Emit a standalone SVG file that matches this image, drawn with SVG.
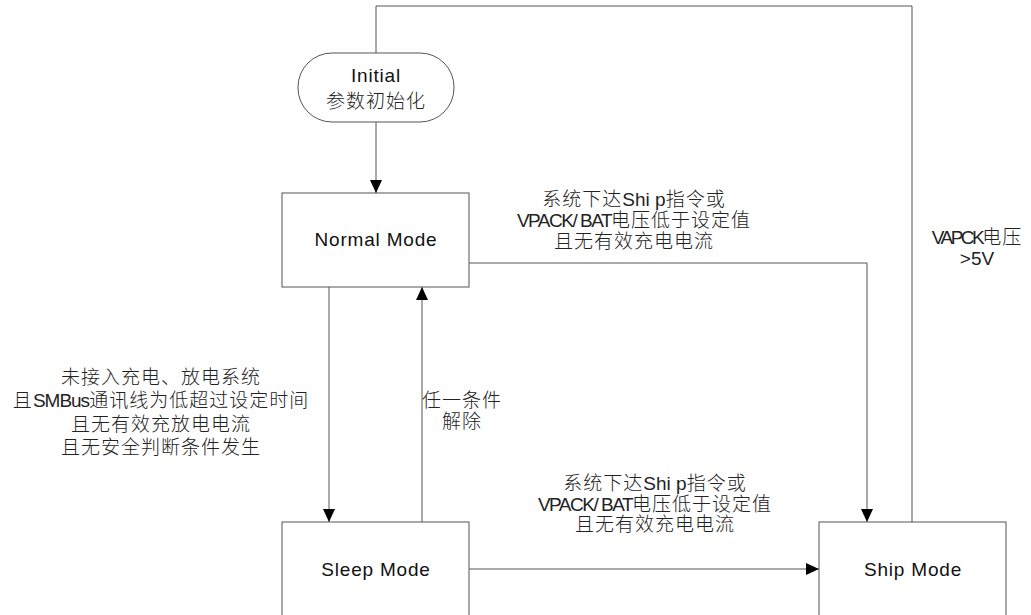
<svg xmlns="http://www.w3.org/2000/svg" width="1031" height="615" viewBox="0 0 1031 615">
  <style>
    .node { fill: #ffffff; stroke: #555555; stroke-width: 1; }
    .conn { fill: none; stroke: #555555; stroke-width: 1; }
    .t { font-family: "Liberation Sans", "Noto Sans CJK SC", sans-serif; font-size: 19px; fill: #111111; text-anchor: middle; letter-spacing: 0.8px; }
    .lbl { font-family: "Liberation Sans", "Noto Sans CJK SC", sans-serif; font-size: 19px; font-weight: 300; fill: #222222; text-anchor: middle; letter-spacing: 1px; }
    .lat0 { letter-spacing: 0px; }
    .latc { letter-spacing: -1.5px; }
    .latc1 { letter-spacing: -1px; }
    .latc2 { letter-spacing: -2.5px; }
  </style>
  <defs>
    <marker id="arrow" viewBox="0 0 13 12" refX="13" refY="6" markerWidth="13" markerHeight="12" markerUnits="userSpaceOnUse" orient="auto">
      <path d="M0,0 L13,6 L0,12 Z" fill="#000000"/>
    </marker>
  </defs>
  <rect width="1031" height="615" fill="#ffffff"/>

  <g id="connectors">
    <path class="conn" d="M376,122 L376,193" marker-end="url(#arrow)"/>
    <path class="conn" d="M329,287 L329,522" marker-end="url(#arrow)"/>
    <path class="conn" d="M422,522 L422,287" marker-end="url(#arrow)"/>
    <path class="conn" d="M469,263 L867,263 L867,522" marker-end="url(#arrow)"/>
    <path class="conn" d="M469,569 L819,569" marker-end="url(#arrow)"/>
    <path class="conn" d="M912,522 L912,6 L376,6 L376,53"/>
  </g>

  <g id="initial">
    <rect class="node" x="298" y="53" width="156" height="69" rx="34" ry="34"/>
    <text class="t" x="376" y="82">Initial</text>
    <text class="lbl" x="376" y="108">参数初始化</text>
  </g>

  <g id="normal">
    <rect class="node" x="282" y="193" width="187" height="94"/>
    <text class="t" x="376" y="246">Normal Mode</text>
  </g>

  <g id="sleep">
    <rect class="node" x="282" y="522" width="187" height="100"/>
    <text class="t" x="376" y="576">Sleep Mode</text>
  </g>

  <g id="ship">
    <rect class="node" x="819" y="522" width="187" height="100"/>
    <text class="t" x="913" y="576">Ship Mode</text>
  </g>

  <g id="labels">
    <text class="lbl" x="634" y="206">系统下达<tspan class="lat0">Shi p</tspan>指令或</text>
    <text class="lbl" x="634" y="227"><tspan class="latc">VPACK/ BAT</tspan>电压低于设定值</text>
    <text class="lbl" x="634" y="248">且无有效充电电流</text>

    <text class="lbl" x="161" y="384">未接入充电、放电系统</text>
    <text class="lbl" x="161" y="407">且<tspan class="latc1">SMBus</tspan>通讯线为低超过设定时间</text>
    <text class="lbl" x="161" y="431">且无有效充放电电流</text>
    <text class="lbl" x="161" y="454">且无安全判断条件发生</text>

    <text class="lbl" x="462" y="407">任一条件</text>
    <text class="lbl" x="462" y="428">解除</text>

    <text class="lbl" x="655" y="490">系统下达<tspan class="lat0">Shi p</tspan>指令或</text>
    <text class="lbl" x="655" y="511"><tspan class="latc">VPACK/ BAT</tspan>电压低于设定值</text>
    <text class="lbl" x="655" y="531">且无有效充电电流</text>

    <text class="lbl" x="977" y="244"><tspan class="latc2">VAPCK</tspan>电压</text>
    <text class="lbl" x="977" y="265"><tspan class="lat0">&gt;5V</tspan></text>
  </g>
</svg>
